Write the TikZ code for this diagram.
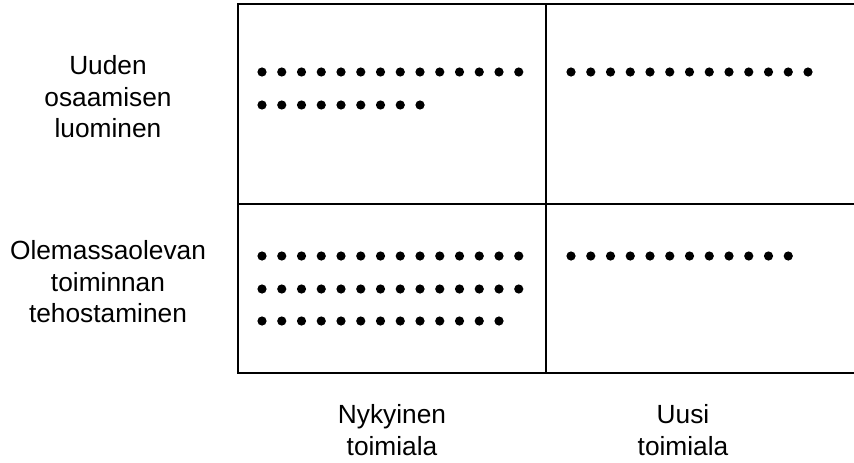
\documentclass[tikz,border=0pt]{standalone}
\usepackage{fontspec}
\setmainfont{Liberation Sans}
\begin{document}
\begin{tikzpicture}[x=1pt,y=-1pt,
  gridline/.style={line width=2pt,line cap=rect},
  label/.style={align=center,inner sep=0pt,font=\fontsize{26.3}{31.5}\selectfont},
  dotmark/.style={fill=black}]
\useasboundingbox (0,0) rectangle (854,463);
% grid corners
\coordinate (tl) at (237.5,4);
\coordinate (bl) at (237.5,373);
\coordinate (ml) at (237.5,204);
\coordinate (tr) at (854,4);
\coordinate (br) at (854,373);
\coordinate (mr) at (854,204);
\coordinate (tm) at (546,4);
\coordinate (bm) at (546,373);
\draw[gridline] (tr) -- (tl) -- (bl) -- (br);
\draw[gridline] (ml) -- (mr);
\draw[gridline] (tm) -- (bm);
% row labels
\node[label] (rowA) at (108,97) {Uuden\\osaamisen\\luominen};
\node[label] (rowB) at (108,282) {Olemassaolevan\\toiminnan\\tehostaminen};
% column labels
\node[label] (colA) at (392,430) {Nykyinen\\toimiala};
\node[label] (colB) at (683,430) {Uusi\\toimiala};
% dot rows: start x, y, count
\foreach \sx/\yy/\n in {262/72/14, 262/105/9, 571/72/13,
                        262/256/14, 262/289/14, 262/321/13, 571/256/12}{
  \foreach \i in {1,...,\n}{
    \fill[dotmark] ({\sx+(\i-1)*19.75},\yy) circle (4.6);
  }
}
\end{tikzpicture}
\end{document}
